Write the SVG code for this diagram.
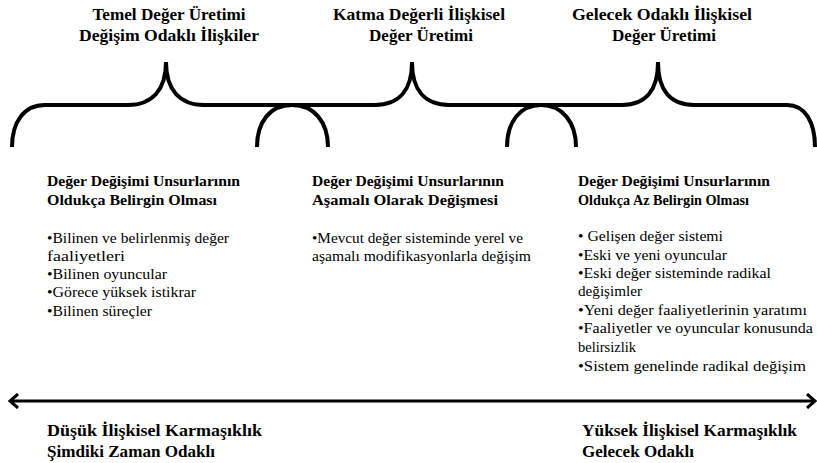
<svg xmlns="http://www.w3.org/2000/svg" width="817" height="463" viewBox="0 0 817 463">
<style>
text{font-family:"Liberation Serif","Times New Roman",serif;fill:#000}
.h{font-weight:bold;font-size:17px}
.hc{text-anchor:middle}
.b{font-weight:bold;font-size:14px}
.t{font-size:14px}
.brace{fill:none;stroke:#000;stroke-width:4}
.axis{fill:none;stroke:#000;stroke-width:3}
</style>
<defs>
<marker id="chev" viewBox="0 0 12 16" refX="10" refY="8" markerWidth="12" markerHeight="16" markerUnits="userSpaceOnUse" orient="auto-start-reverse">
<path d="M2,1 L10,8 L2,15" fill="none" stroke="#000" stroke-width="3"/>
</marker>
</defs>
<g id="headings">
<g id="h1">
<text class="h hc" x="169" y="20" textLength="153" lengthAdjust="spacingAndGlyphs">Temel Değer Üretimi</text>
<text class="h hc" x="169" y="41" textLength="180" lengthAdjust="spacingAndGlyphs">Değişim Odaklı İlişkiler</text>
</g>
<g id="h2">
<text class="h hc" x="419" y="20" textLength="172" lengthAdjust="spacingAndGlyphs">Katma Değerli İlişkisel</text>
<text class="h hc" x="421" y="41" textLength="104" lengthAdjust="spacingAndGlyphs">Değer Üretimi</text>
</g>
<g id="h3">
<text class="h hc" x="662" y="20" textLength="180" lengthAdjust="spacingAndGlyphs">Gelecek Odaklı İlişkisel</text>
<text class="h hc" x="664" y="41" textLength="104" lengthAdjust="spacingAndGlyphs">Değer Üretimi</text>
</g>
</g>
<g id="connectors">
<path class="brace" d="M12,147 C12,122 24,105 45,105 L128,105 C152,105 166,90 166,62 C166,90 180,105 204,105 L375,105 C399,105 412,90 412,62 C412,90 425,105 449,105 L622,105 C646,105 658,90 658,62 C658,90 670,105 694,105 L787,105 C805,105 815,122 815,147"/>
<path class="brace" d="M257,147 C257,122 270,105 292,105 C314,105 328,122 328,147"/>
<path class="brace" d="M507,147 C507,122 520,105 541,105 C562,105 576,122 576,147"/>
<line class="axis" x1="10" y1="401" x2="815" y2="401" marker-start="url(#chev)" marker-end="url(#chev)"/>
</g>
<g id="col1">
<text class="b" x="47" y="186" textLength="193" lengthAdjust="spacingAndGlyphs">Değer Değişimi Unsurlarının</text>
<text class="b" x="47" y="205" textLength="170" lengthAdjust="spacingAndGlyphs">Oldukça Belirgin Olması</text>
<text class="t" x="47" y="243" textLength="182" lengthAdjust="spacingAndGlyphs">•Bilinen ve belirlenmiş değer</text>
<text class="t" x="47" y="261" textLength="78" lengthAdjust="spacingAndGlyphs">faaliyetleri</text>
<text class="t" x="47" y="279" textLength="120" lengthAdjust="spacingAndGlyphs">•Bilinen oyuncular</text>
<text class="t" x="47" y="297" textLength="149" lengthAdjust="spacingAndGlyphs">•Görece yüksek istikrar</text>
<text class="t" x="47" y="316" textLength="105" lengthAdjust="spacingAndGlyphs">•Bilinen süreçler</text>
</g>
<g id="col2">
<text class="b" x="312" y="186" textLength="192" lengthAdjust="spacingAndGlyphs">Değer Değişimi Unsurlarının</text>
<text class="b" x="312" y="205" textLength="186" lengthAdjust="spacingAndGlyphs">Aşamalı Olarak Değişmesi</text>
<text class="t" x="312" y="243" textLength="211" lengthAdjust="spacingAndGlyphs">•Mevcut değer sisteminde yerel ve</text>
<text class="t" x="312" y="261" textLength="219" lengthAdjust="spacingAndGlyphs">aşamalı modifikasyonlarla değişim</text>
</g>
<g id="col3">
<text class="b" x="578" y="186" textLength="192" lengthAdjust="spacingAndGlyphs">Değer Değişimi Unsurlarının</text>
<text class="b" x="578" y="205" textLength="171" lengthAdjust="spacingAndGlyphs">Oldukça Az Belirgin Olması</text>
<text class="t" x="578" y="241" textLength="145" lengthAdjust="spacingAndGlyphs">• Gelişen değer sistemi</text>
<text class="t" x="578" y="260" textLength="149" lengthAdjust="spacingAndGlyphs">•Eski ve yeni oyuncular</text>
<text class="t" x="578" y="278" textLength="193" lengthAdjust="spacingAndGlyphs">•Eski değer sisteminde radikal</text>
<text class="t" x="578" y="296" textLength="64" lengthAdjust="spacingAndGlyphs">değişimler</text>
<text class="t" x="578" y="315" textLength="229" lengthAdjust="spacingAndGlyphs">•Yeni değer faaliyetlerinin yaratımı</text>
<text class="t" x="578" y="333" textLength="235" lengthAdjust="spacingAndGlyphs">•Faaliyetler ve oyuncular konusunda</text>
<text class="t" x="578" y="352" textLength="58" lengthAdjust="spacingAndGlyphs">belirsizlik</text>
<text class="t" x="578" y="371" textLength="228" lengthAdjust="spacingAndGlyphs">•Sistem genelinde radikal değişim</text>
</g>
<g id="bottom">
<g id="low">
<text class="h" x="47" y="436" textLength="215" lengthAdjust="spacingAndGlyphs">Düşük İlişkisel Karmaşıklık</text>
<text class="h" x="47" y="457" textLength="168" lengthAdjust="spacingAndGlyphs">Şimdiki Zaman Odaklı</text>
</g>
<g id="high">
<text class="h" x="582" y="436" textLength="215" lengthAdjust="spacingAndGlyphs">Yüksek İlişkisel Karmaşıklık</text>
<text class="h" x="582" y="457" textLength="112" lengthAdjust="spacingAndGlyphs">Gelecek Odaklı</text>
</g>
</g>
</svg>
